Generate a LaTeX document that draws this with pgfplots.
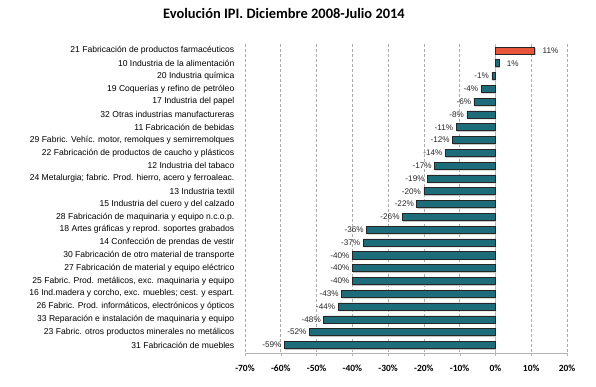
\documentclass[border=0pt]{standalone}
\usepackage{fontspec}
\setmainfont{Liberation Sans}
\newfontfamily\carlito{Carlito}
\usepackage{pgfplots}
\pgfplotsset{compat=1.18}
\definecolor{barteal}{HTML}{1C6D79}
\definecolor{barred}{HTML}{E8553B}
\pgfplotstableread{
x y
1 1
}\tealpos
\pgfplotstableread{
x y
-1 2
-4 3
-6 4
-8 5
-11 6
-12 7
-14 8
-17 9
-19 10
-20 11
-22 12
-26 13
-36 14
-37 15
-40 16
-40 17
-40 18
-43 19
-44 20
-48 21
-52 22
-59 23
}\tealneg
\pgfplotstableread{
x y
11 0
}\reddata
\begin{document}
\begin{tikzpicture}
\useasboundingbox (-245bp,-34bp) rectangle (351bp,353bp);
\begin{axis}[
  at={(0,0)}, anchor=south west,
  scale only axis, width=322bp, height=309bp,
  xbar, bar width=0.55, bar shift=0pt,
  xmin=-70, xmax=20, ymin=-0.5, ymax=23.63, y dir=reverse,
  axis x line=bottom, axis y line=left,
  x axis line style={draw=gray!60, line width=0.8bp, -},
  y axis line style={draw=none},
  xtick={-70,-60,...,20},
  xticklabel={\pgfmathprintnumber[assume math mode=true]{\tick}\%},
  xticklabel style={font=\carlito\bfseries\fontsize{9.5}{11}\selectfont, yshift=-6bp},
  tick align=outside, major tick length=2.5bp,
  x tick style={draw=gray!60},
  y tick style={draw=none},
  xmajorgrids, major grid style={gray!65, dash pattern=on 3bp off 2bp, line width=0.6bp},
  extra x ticks={0}, extra x tick labels={},
  extra x tick style={grid=major, major grid style={solid, draw=gray!55, line width=1bp, dash pattern=}},
  ytick={0,...,23},
  yticklabels={
    {21 Fabricación de productos farmacéuticos},
    {10 Industria de la alimentación},
    {20 Industria química},
    {19 Coquerías y refino de petróleo},
    {17 Industria del papel},
    {32 Otras industrias manufactureras},
    {11 Fabricación de bebidas},
    {29 Fabric. Vehíc. motor, remolques y semirremolques},
    {22 Fabricación de productos de caucho y plásticos},
    {12 Industria del tabaco},
    {24 Metalurgia; fabric. Prod. hierro, acero y ferroaleac.},
    {13 Industria textil},
    {15 Industria del cuero y del calzado},
    {28 Fabricación de maquinaria y equipo n.c.o.p.},
    {18 Artes gráficas y reprod. soportes grabados},
    {14 Confección de prendas de vestir},
    {30 Fabricación de otro material de transporte},
    {27 Fabricación de material y equipo eléctrico},
    {25 Fabric. Prod. metálicos, exc. maquinaria y equipo},
    {16 Ind.madera y corcho, exc. muebles; cest. y espart.},
    {26 Fabric. Prod. informáticos, electrónicos y ópticos},
    {33 Reparación e instalación de maquinaria y equipo},
    {23 Fabric. otros productos minerales no metálicos},
    {31 Fabricación de muebles}},
  yticklabel style={font=\fontsize{8.6}{10}\selectfont, inner sep=0pt, xshift=-8bp},
  point meta=x,
  nodes near coords align={horizontal},
  every node near coord/.append style={font=\fontsize{8.2}{9}\selectfont, text=black!85, inner sep=2.6bp},
]
\addplot[fill=gray!45, draw=none, xshift=0.8bp, yshift=-1.4bp, forget plot] table[x=x,y=y] {\reddata};
\addplot[fill=gray!45, draw=none, xshift=0.8bp, yshift=-1.4bp, forget plot] table[x=x,y=y] {\tealpos};
\addplot[fill=gray!45, draw=none, xshift=0.8bp, yshift=-1.4bp, forget plot] table[x=x,y=y] {\tealneg};
\addplot[fill=barred, draw=black!85, line width=0.6bp,
  nodes near coords={\pgfmathprintnumber[assume math mode=true]{\pgfplotspointmeta}\%},
  every node near coord/.append style={xshift=5bp}] table[x=x,y=y] {\reddata};
\addplot[fill=barteal, draw=black!85, line width=0.6bp,
  nodes near coords={\pgfmathprintnumber[assume math mode=true]{\pgfplotspointmeta}\%},
  every node near coord/.append style={xshift=5bp}] table[x=x,y=y] {\tealpos};
\addplot[fill=barteal, draw=black!85, line width=0.6bp,
  nodes near coords={\pgfmathprintnumber[assume math mode=true]{\pgfplotspointmeta}\%}] table[x=x,y=y] {\tealneg};
\end{axis}
\node[font=\carlito\bfseries\fontsize{14.5}{17}\selectfont] at (39bp,339.5bp) {Evolución IPI. Diciembre 2008-Julio 2014};
\end{tikzpicture}
\end{document}
